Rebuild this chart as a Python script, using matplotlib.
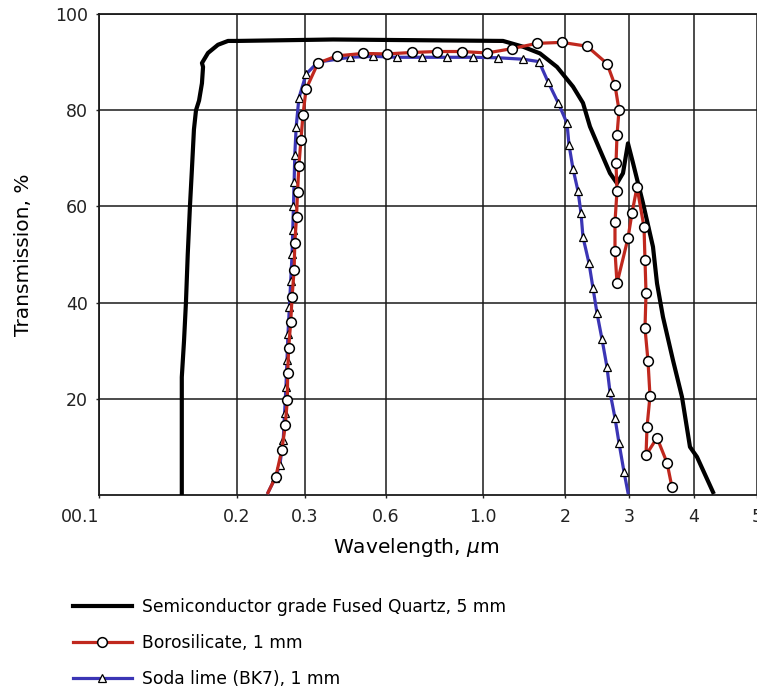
import numpy as np
import matplotlib
matplotlib.use("Agg")
import matplotlib.pyplot as plt

# tick values on the (non uniform) wavelength axis and where they sit
tick_vals = [0.1, 0.2, 0.3, 0.6, 1.0, 2, 3, 4, 5]
tick_pos = [0, 138, 206, 287, 384, 466, 530, 595, 658]
tick_labels = ["00.1", "0.2", "0.3", "0.6", "1.0", "2", "3", "4", "5"]

# Semiconductor grade fused quartz, 5 mm
quartz_wl = [0.160, 0.160, 0.1616, 0.163, 0.1643, 0.1659, 0.1672, 0.1688, 0.1703,
             0.1725, 0.1746, 0.1754, 0.1746, 0.179, 0.1862, 0.1935, 0.2, 0.404,
             1.244, 1.488, 1.695, 1.902, 2.125, 2.281, 2.39, 2.547, 2.703, 2.8125,
             2.906, 2.984, 3.062, 3.215, 3.369, 3.431, 3.523, 3.677, 3.815, 3.938,
             4.048, 4.302]
quartz_t = [0, 24.5, 32, 40, 50, 60, 67, 76, 80,
            82, 85.6, 89, 89.8, 91.9, 93.6, 94.4, 94.4, 94.7,
            94.4, 93.2, 91.8, 89.0, 84.9, 81.5, 76.6, 71.7, 66.9, 64.8,
            66.9, 73.1, 69, 60.7, 51.6, 44, 37, 28, 20.4, 10,
            7.9, 0.6]

# Borosilicate, 1 mm
boro_wl = [0.2456, 0.257, 0.266, 0.271, 0.274, 0.2745, 0.276, 0.279, 0.281, 0.284,
           0.285, 0.2875, 0.289, 0.291, 0.294, 0.297, 0.304, 0.348, 0.419, 0.515,
           0.604, 0.707, 0.810, 0.913, 1.049, 1.354, 1.659, 1.963, 2.344, 2.656,
           2.781, 2.844, 2.8125, 2.797, 2.8125, 2.781, 2.781, 2.8125, 2.984, 3.046,
           3.123, 3.231, 3.246, 3.262, 3.246, 3.292, 3.323, 3.277, 3.262, 3.431,
           3.585, 3.66]
boro_t = [0.5, 3.8, 9.4, 14.5, 19.8, 25.4, 30.6, 36, 41.2, 46.8,
          52.4, 57.8, 63, 68.4, 73.8, 79, 84.4, 89.8, 91.3, 91.8,
          91.7, 92, 92.2, 92.2, 91.9, 92.8, 93.9, 94.1, 93.3, 89.7,
          85.2, 80, 74.8, 69, 63.2, 56.8, 50.7, 44, 53.4, 58.6,
          64, 55.7, 48.9, 42, 34.7, 27.9, 20.6, 14.1, 8.3, 11.9,
          6.7, 1.7]

# Soda lime (BK7), 1 mm
soda_wl = [0.2456, 0.256, 0.263, 0.268, 0.270, 0.272, 0.2735, 0.275, 0.277, 0.279,
           0.281, 0.282, 0.283, 0.284, 0.285, 0.287, 0.291, 0.304, 0.348, 0.467,
           0.552, 0.645, 0.748, 0.852, 0.959, 1.183, 1.488, 1.683, 1.793, 1.915,
           2.031, 2.0625, 2.125, 2.203, 2.25, 2.281, 2.375, 2.4375, 2.5, 2.578,
           2.656, 2.703, 2.781, 2.844, 2.922, 2.984]
soda_t = [0.5, 3.5, 6.2, 11.5, 17, 22.5, 28, 33.5, 39, 44.5,
          50, 55, 60, 65, 70.7, 76.5, 82.5, 87.5, 90, 91,
          91.2, 91, 91, 91, 91, 90.9, 90.6, 90.1, 85.9, 81.6,
          77.3, 72.8, 67.8, 63.2, 58.6, 53.6, 48.2, 43, 37.8, 32.4,
          26.6, 21.4, 16, 10.8, 4.8, 0.5]


def fwd(x):
    return np.interp(np.asarray(x, dtype=float), tick_vals, tick_pos)


def inv(y):
    return np.interp(np.asarray(y, dtype=float), tick_pos, tick_vals)


fig = plt.figure(figsize=(7.57, 6.92), dpi=100)
ax = fig.add_axes([99 / 757, 197 / 692, 658 / 757, 481 / 692])
ax.set_xscale("function", functions=(fwd, inv))
ax.set_xlim(0.1, 5)
ax.set_ylim(0, 100)

ax.plot(quartz_wl, quartz_t, color="black", lw=3.0, zorder=3,
        label="Semiconductor grade Fused Quartz, 5 mm")
ax.plot(boro_wl, boro_t, color="#c0281e", lw=2.3, marker="o", ms=7,
        mfc="white", mec="black", mew=1.1, markevery=slice(1, None), zorder=5,
        label="Borosilicate, 1 mm")
ax.plot(soda_wl, soda_t, color="#3b35b5", lw=2.3, marker="^", ms=5.5,
        mfc="white", mec="black", mew=0.9, markevery=slice(1, -1), zorder=4,
        label="Soda lime (BK7), 1 mm")

ax.set_xticks(tick_vals)
ax.set_xticklabels(tick_labels)
ax.get_xticklabels()[0].set_horizontalalignment("right")
ax.set_yticks([20, 40, 60, 80, 100])
ax.tick_params(labelsize=12.5, length=2, width=1, pad=6, colors="#222222")
ax.tick_params(axis="x", pad=7)
ax.set_axisbelow(True)
ax.grid(True, color="#1a1a1a", lw=1.1)
for s in ["left", "top", "bottom"]:
    ax.spines[s].set_linewidth(1.3)
    ax.spines[s].set_color("#1a1a1a")
ax.spines["right"].set_visible(False)

ax.set_ylabel("Transmission, %", fontsize=14.5)
ax.yaxis.set_label_coords(-0.10, 0.5)
ax.set_xlabel("Wavelength, $\\mu$m", fontsize=14.5)
ax.xaxis.set_label_coords((416 - 99) / 658, -0.085)

fig.legend(loc="upper left", bbox_to_anchor=(64 / 757, 0.148), frameon=False,
           fontsize=12.3, handlelength=3.5, handletextpad=0.55, labelspacing=1.05,
           borderpad=0, numpoints=1)

fig.savefig("out.png", dpi=100)
